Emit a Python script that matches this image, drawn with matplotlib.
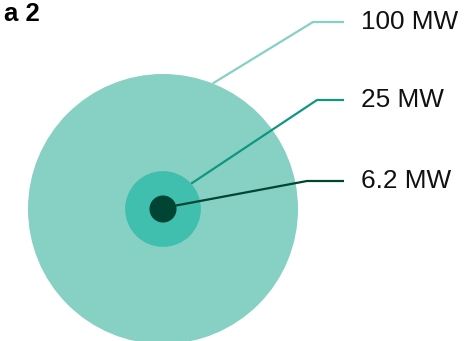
import numpy as np
import matplotlib

matplotlib.use("Agg")
import matplotlib.pyplot as plt  # noqa: E402
from matplotlib.patches import Circle  # noqa: E402

plt.rcParams["font.family"] = ["Liberation Sans", "DejaVu Sans"]

# installed capacity, biggest first so the small circles sit on top
CAPACITY_MW = [100, 25, 6.2]
LABELS = ["100 MW", "25 MW", "6.2 MW"]

FILL = ["#86d0c4", "#40beae", "#004433"]
LINE = ["#86d0c4", "#119682", "#004433"]
LEADER_ANGLE = [68.4, 42.0, 15.0]      # degrees, where the leader leaves the circle
ELBOW = [(313, 22), (317, 100), (307, 181)]
LINE_END_X = 344
TEXT_X = 361
CENTER = (163, 209)


def radius(v):
    """Circle radius in canvas units for a capacity value."""
    return 5.5 + 1.295 * v


fig = plt.figure(figsize=(4.72, 3.41), dpi=100)
ax = fig.add_axes([0, 0, 1, 1])
ax.set_xlim(0, 472)
ax.set_ylim(341, 0)
ax.axis("off")

for v, c in zip(CAPACITY_MW, FILL):
    ax.add_patch(Circle(CENTER, radius(v), facecolor=c, edgecolor="none", zorder=1))

for v, lab, c, ang, (ex, ey) in zip(CAPACITY_MW, LABELS, LINE, LEADER_ANGLE, ELBOW):
    a = np.radians(ang)
    r = radius(v)
    sx, sy = CENTER[0] + r * np.cos(a), CENTER[1] - r * np.sin(a)
    ax.plot([sx, ex, LINE_END_X], [sy, ey, ey], color=c, lw=1.6,
            solid_joinstyle="miter", solid_capstyle="butt", zorder=3)
    ax.text(TEXT_X, ey, lab, ha="left", va="center", fontsize=18.8, color="#111111")

ax.text(40, 14, "a 2", ha="right", va="center", fontsize=18.5,
        fontweight="bold", color="black")

fig.savefig("out.png", dpi=100)
